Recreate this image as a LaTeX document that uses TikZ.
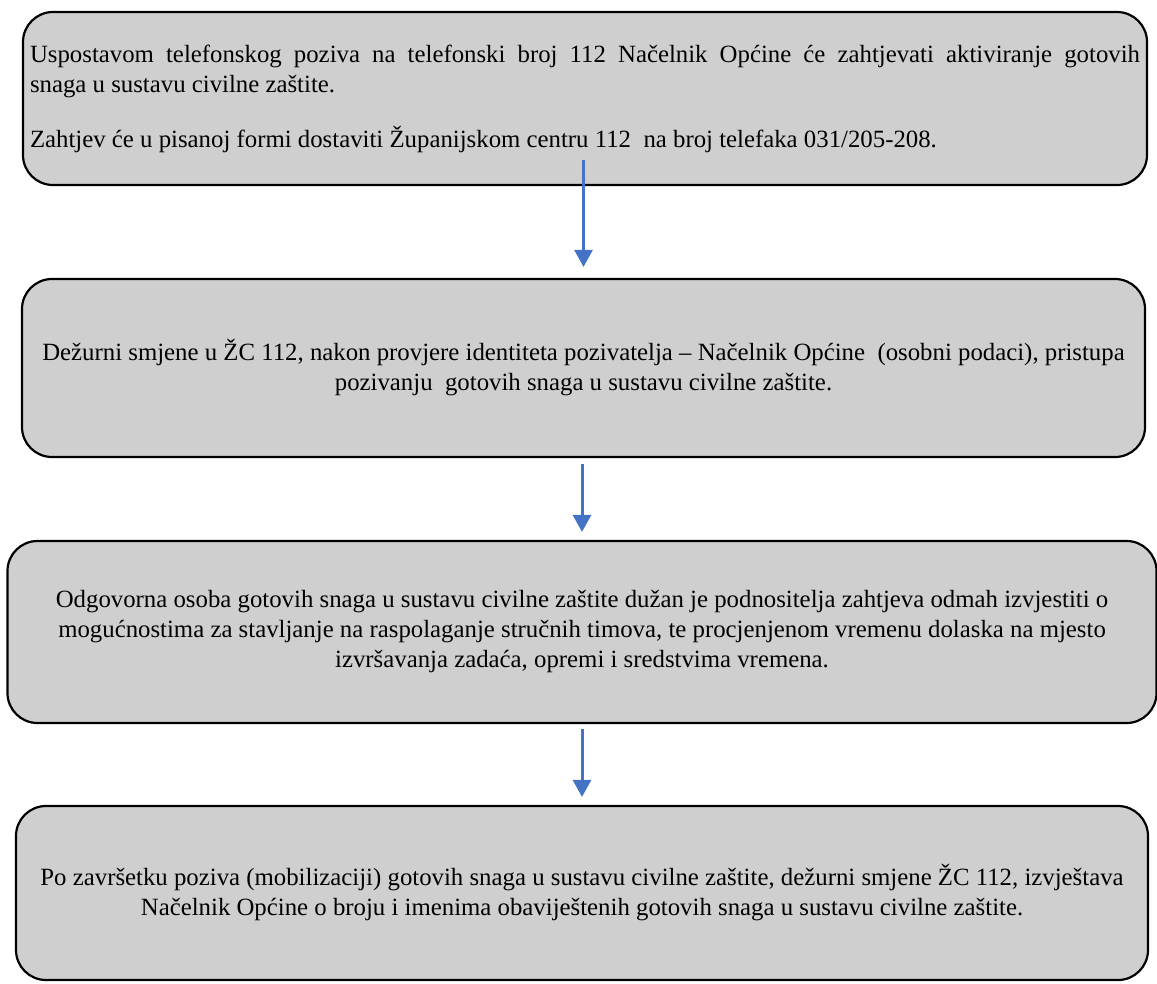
\documentclass[tikz,border=0pt]{standalone}
\usepackage{fontspec}
\setmainfont{Liberation Serif}
\usepackage{tikz}
\usetikzlibrary{arrows.meta}
\definecolor{boxgray}{RGB}{207,207,207}
\definecolor{flowblue}{RGB}{68,114,196}

\begin{document}
\begin{tikzpicture}[line join=round,x=1pt,y=-1pt,
  >={Triangle[length=17pt,width=18pt]},
  box/.style={draw=black,line width=2.2pt,fill=boxgray,rounded corners=30pt,
    inner sep=0pt,align=center,font=\fontsize{24.8}{30}\selectfont},
  flow/.style={->,draw=flowblue,line width=3pt}]
\useasboundingbox (0,0) rectangle (1157,983);
% boxes
\node[box,minimum width=1124pt,minimum height=173pt,text width=1110pt,align=justify] (b1) at (585,98.5)
  {Uspostavom telefonskog poziva na telefonski broj 112 Načelnik Općine će zahtjevati aktiviranje gotovih\linebreak
   snaga u sustavu civilne zaštite.\\[25pt]
   Zahtjev će u pisanoj formi dostaviti Županijskom centru 112~ na broj telefaka 031/205-208.};
\node[box,minimum width=1123pt,minimum height=178pt] (b2) at (583.5,368)
  {Dežurni smjene u ŽC 112, nakon provjere identiteta pozivatelja – Načelnik Općine~ (osobni podaci), pristupa\\
   pozivanju~ gotovih snaga u sustavu civilne zaštite.};
\node[box,minimum width=1149pt,minimum height=182pt] (b3) at (582,632)
  {Odgovorna osoba gotovih snaga u sustavu civilne zaštite dužan je podnositelja zahtjeva odmah izvjestiti o\\
   mogućnostima za stavljanje na raspolaganje stručnih timova, te procjenjenom vremenu dolaska na mjesto\\
   izvršavanja zadaća, opremi i sredstvima vremena.};
\node[box,minimum width=1132pt,minimum height=174pt] (b4) at (582,893)
  {Po završetku poziva (mobilizaciji) gotovih snaga u sustavu civilne zaštite, dežurni smjene ŽC 112, izvještava\\
   Načelnik Općine o broju i imenima obaviještenih gotovih snaga u sustavu civilne zaštite.};
% arrows
\draw[flow,shorten <=-26pt,shorten >=11pt] (b2.north |- b1.south) -- (b2.north);
\draw[flow,shorten <=6pt,shorten >=8pt] (b3.north |- b2.south) -- (b3.north);
\draw[flow,shorten <=5pt,shorten >=8pt] (b3.south) -- (b3.south |- b4.north);
\end{tikzpicture}
\end{document}
